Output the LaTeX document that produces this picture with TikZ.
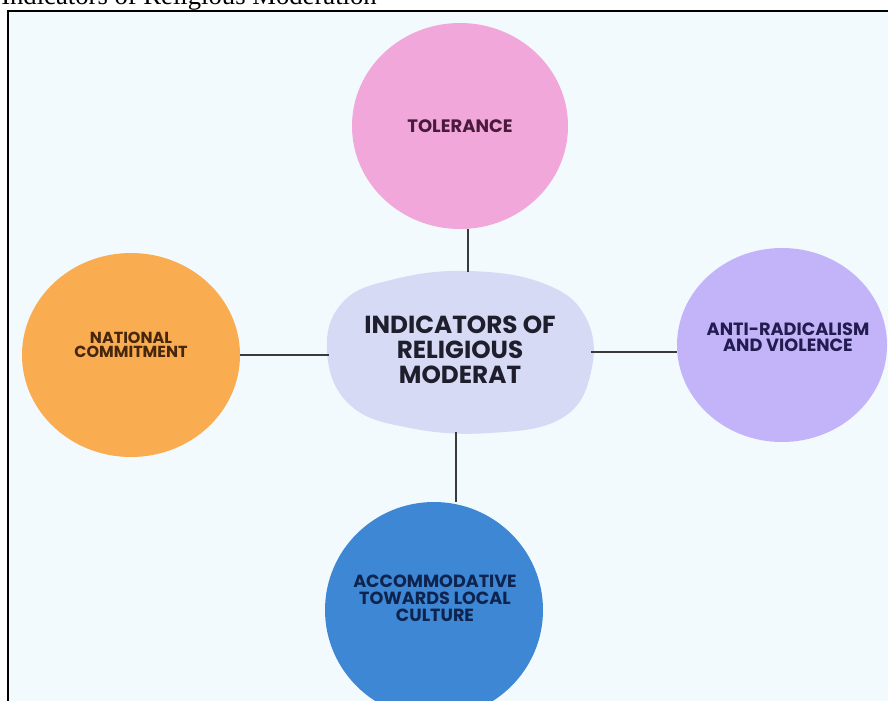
\documentclass[tikz,border=0pt]{standalone}
\usepackage{fontspec}
\setmainfont{Liberation Serif}
\newfontfamily\pop{Poppins}
\usetikzlibrary{shapes.geometric}
\definecolor{pagebg}{HTML}{F2FAFE}
\definecolor{pinkc}{HTML}{F1A7DA}
\definecolor{orangec}{HTML}{F9AC50}
\definecolor{purplec}{HTML}{C3B4FA}
\definecolor{bluec}{HTML}{3E87D5}
\definecolor{blobc}{HTML}{D7DAF4}
\definecolor{linec}{HTML}{3A3A3A}
\definecolor{tolt}{HTML}{4A1A3C}
\definecolor{natt}{HTML}{46260C}
\definecolor{antit}{HTML}{231C50}
\definecolor{acct}{HTML}{0E244E}
\definecolor{cent}{HTML}{1E1E2D}
\tikzset{
  bubble/.style={ellipse, inner sep=0pt},
  label/.style={inner sep=0pt, align=center},
  conn/.style={draw=linec, line width=1.1pt},
}
\begin{document}
\begin{tikzpicture}[x=0.75pt,y=-0.75pt]
\useasboundingbox (0,0) rectangle (888,700);
\fill[white] (0,0) rectangle (888,700);
\fill[pagebg] (8,11) rectangle (890,702);
\draw[line width=1.5pt] (8,702) -- (8,11) -- (890,11);
\node[anchor=base west, inner sep=0pt, font=\fontsize{20}{22}\selectfont] (title) at (1,4) {Indicators of Religious Moderation};
% circles
\node[bubble, fill=pinkc, minimum width=216*0.75pt, minimum height=206*0.75pt] (tol) at (460,126) {};
\node[label, text=tolt, font=\pop\bfseries\fontsize{13.5}{13}\selectfont] (tolT) at (tol) {TOLERANCE};
\node[bubble, fill=orangec, minimum width=218*0.75pt, minimum height=204*0.75pt] (nat) at (131,355) {};
\node[label, text=natt, font=\pop\bfseries\fontsize{12}{10.5}\selectfont] (natT) at (131,345) {NATIONAL\\COMMITMENT};
\node[bubble, fill=purplec, minimum width=210*0.75pt, minimum height=194*0.75pt] (anti) at (782,345) {};
\node[label, text=antit, font=\pop\bfseries\fontsize{13.3}{12}\selectfont] (antiT) at (788,337) {ANTI-RADICALISM\\AND VIOLENCE};
\node[bubble, fill=bluec, minimum width=218*0.75pt, minimum height=216*0.75pt] (acc) at (434,610) {};
\node[label, text=acct, font=\pop\bfseries\fontsize{13.2}{12.6}\selectfont] (accT) at (435,598) {ACCOMMODATIVE\\TOWARDS LOCAL\\CULTURE};
% centre blob
\fill[blobc] plot[smooth cycle, tension=0.7] coordinates {(327,352) (343,302) (395,279) (470,271) (545,284) (586,318) (591,372) (562,418) (490,433) (410,428) (350,405)};
\node[ellipse, minimum width=262*0.75pt, minimum height=160*0.75pt, inner sep=0pt] (center) at (460,352) {};
\node[label, text=cent, font=\pop\bfseries\fontsize{18.5}{18.8}\selectfont] (centerT) at (460,350) {INDICATORS OF\\RELIGIOUS\\MODERAT};
% connectors
\draw[conn] ([xshift=6pt]tol.south) -- ([xshift=6pt]tol.south |- center.north);
\draw[conn] (nat.east) -- (nat.east -| center.west);
\draw[conn] (anti.west |- 0,352) -- (center.east |- 0,352);
\draw[conn] ([xshift=-3pt]center.south) -- ([xshift=-3pt]center.south |- acc.north);
\end{tikzpicture}
\end{document}
